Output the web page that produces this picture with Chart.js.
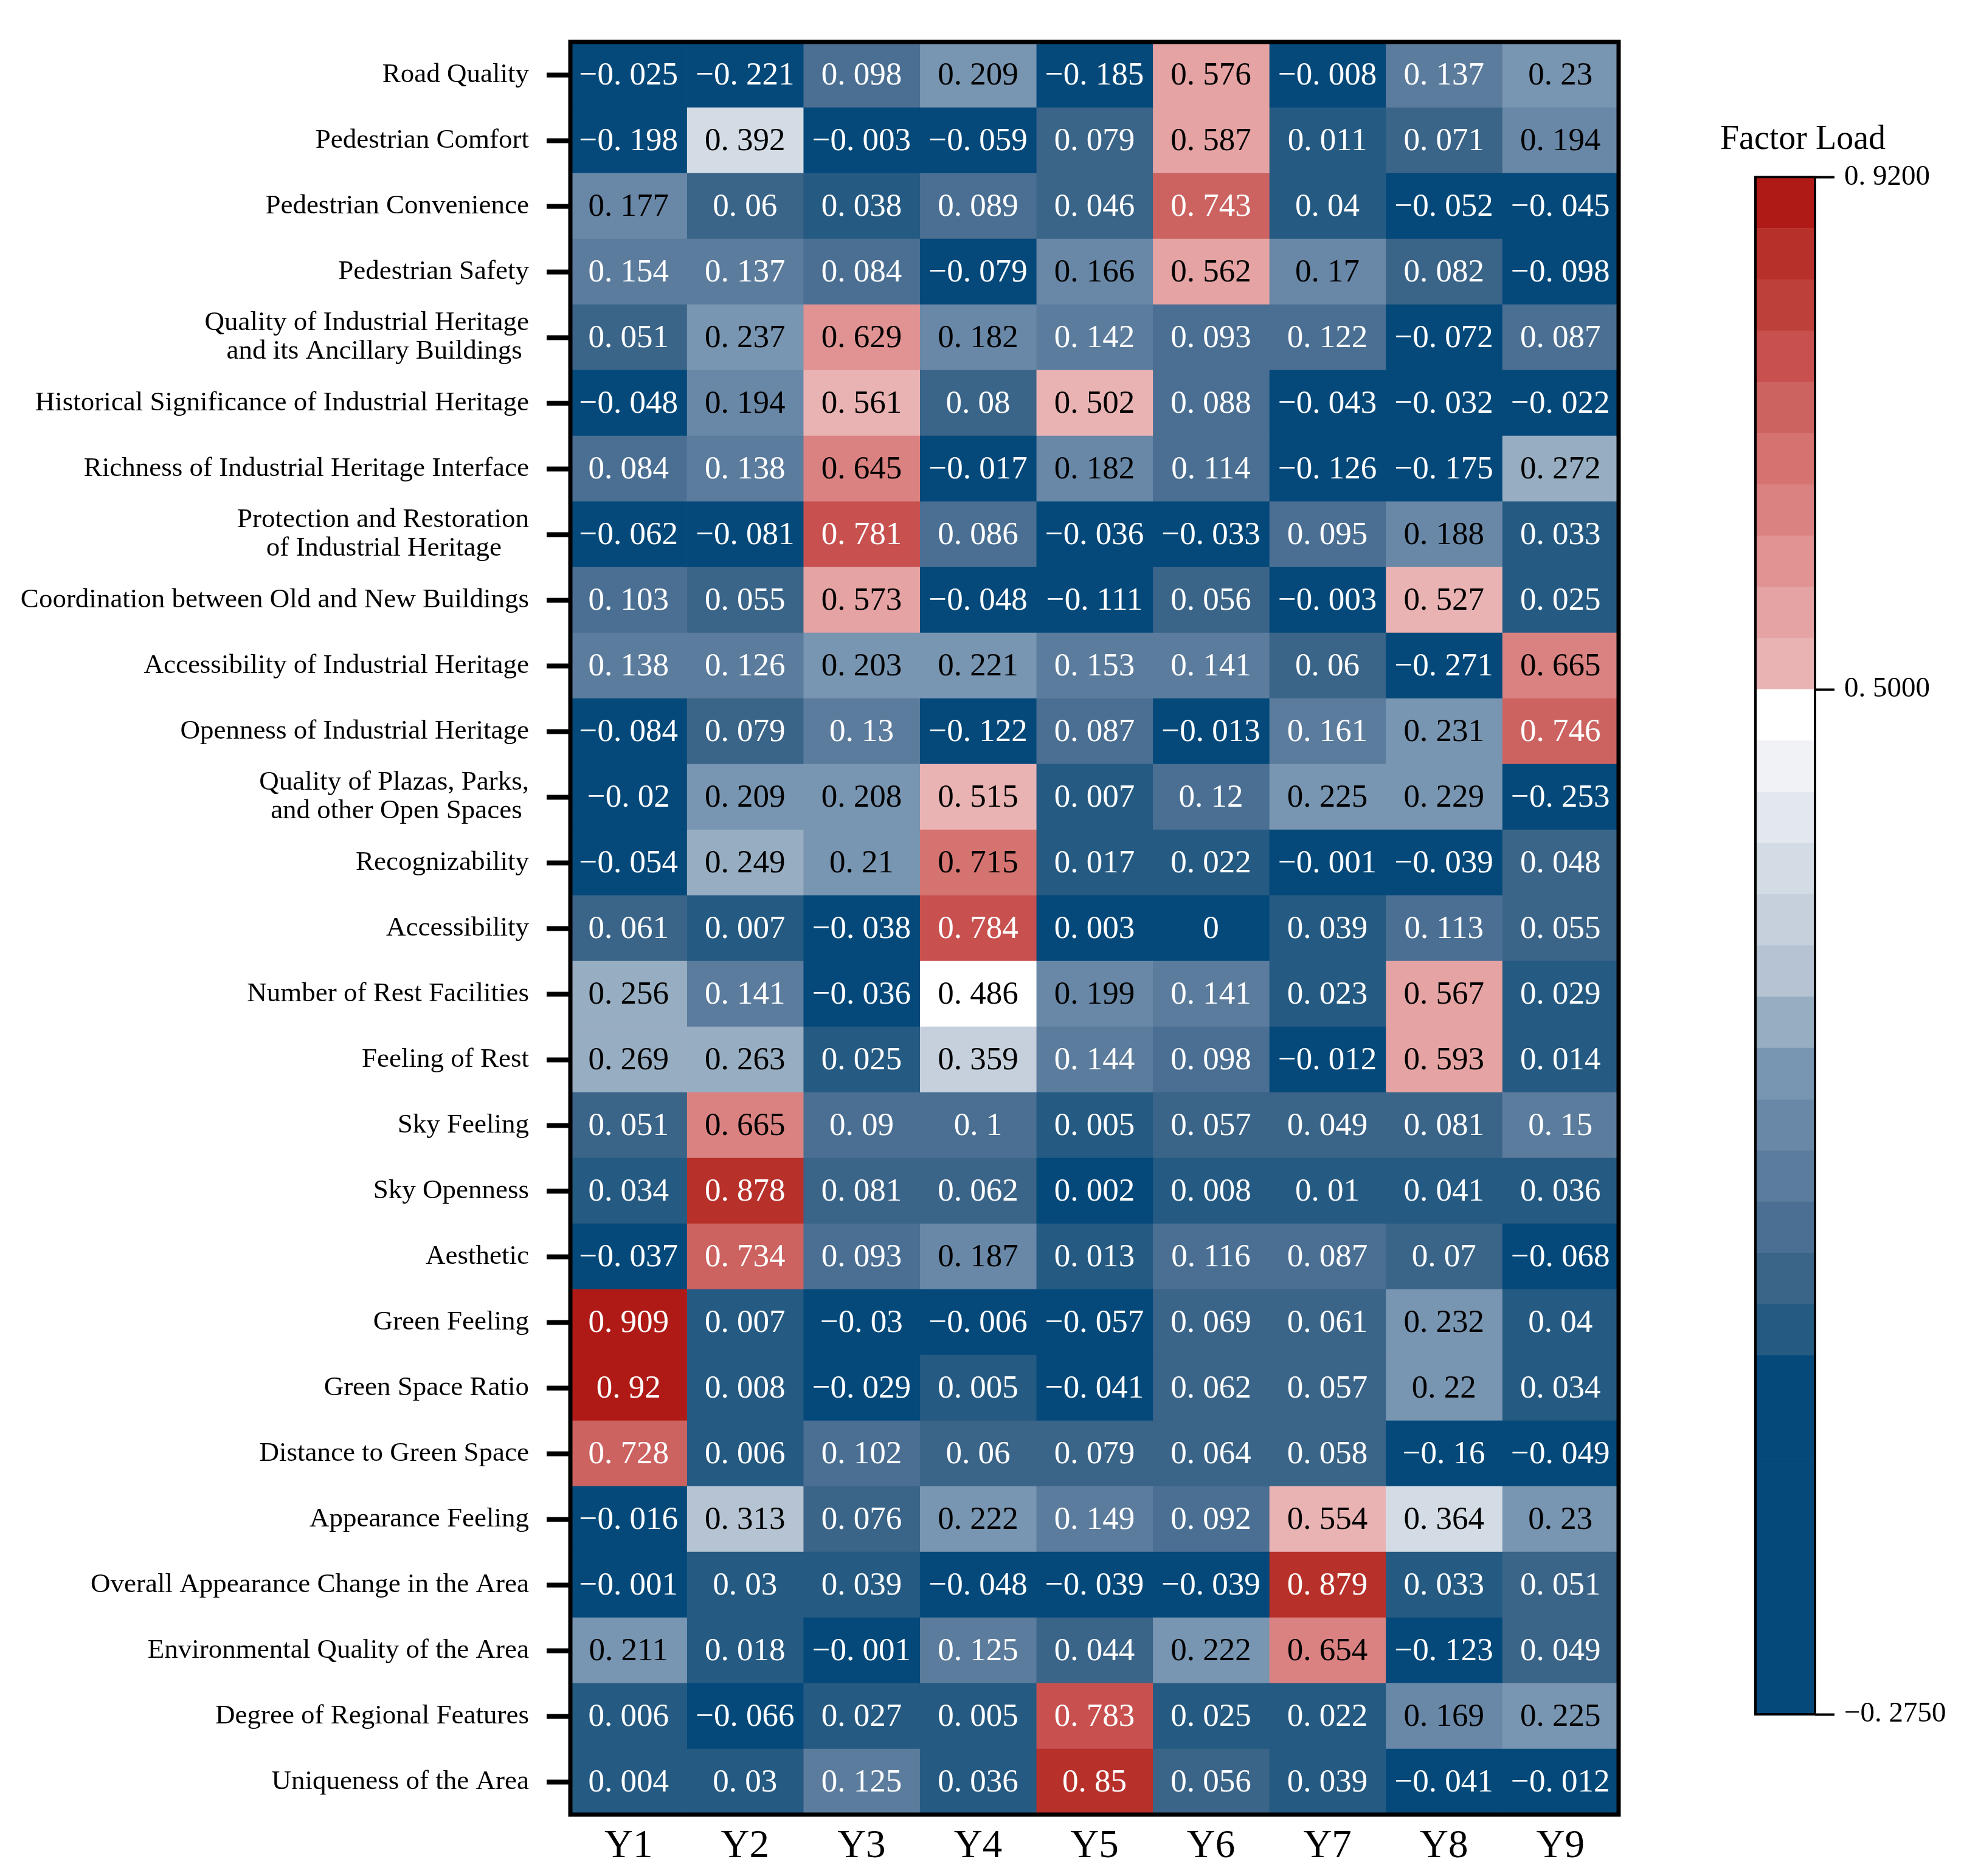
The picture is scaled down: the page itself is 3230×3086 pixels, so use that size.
<!DOCTYPE html>
<html><head><meta charset="utf-8">
<script src="https://cdn.jsdelivr.net/npm/chart.js@4.4.0/dist/chart.umd.min.js"></script>
<style>
html,body{margin:0;padding:0;background:#fff;}
#wrap{position:relative;width:3230px;height:3086px;background:#fff;}
#main{position:absolute;left:0;top:0;}
#cbar{position:absolute;left:2700px;top:0;}
</style></head><body>
<div id="wrap"><canvas id="main" width="2700" height="3086"></canvas><canvas id="cbar" width="530" height="3086"></canvas></div>
<script>
// ---------- data ----------
const rowLabels = [
  "Road Quality",
  "Pedestrian Comfort",
  "Pedestrian Convenience",
  "Pedestrian Safety",
  "Quality of Industrial Heritage\nand its Ancillary Buildings\u00a0",
  "Historical Significance of Industrial Heritage",
  "Richness of Industrial Heritage Interface",
  "Protection and Restoration\nof Industrial Heritage\u00a0\u00a0\u00a0\u00a0",
  "Coordination between Old and New Buildings",
  "Accessibility of Industrial Heritage",
  "Openness of Industrial Heritage",
  "Quality of Plazas, Parks,\nand other Open Spaces\u00a0",
  "Recognizability",
  "Accessibility",
  "Number of Rest Facilities",
  "Feeling of Rest",
  "Sky Feeling",
  "Sky Openness",
  "Aesthetic",
  "Green Feeling",
  "Green Space Ratio",
  "Distance to Green Space",
  "Appearance Feeling",
  "Overall Appearance Change in the Area",
  "Environmental Quality of the Area",
  "Degree of Regional Features",
  "Uniqueness of the Area"
];
const colLabels = ["Y1","Y2","Y3","Y4","Y5","Y6","Y7","Y8","Y9"];

const loadY1 = [-0.025,-0.198,0.177,0.154,0.051,-0.048,0.084,-0.062,0.103,0.138,-0.084,-0.02,-0.054,0.061,0.256,0.269,0.051,0.034,-0.037,0.909,0.92,0.728,-0.016,-0.001,0.211,0.006,0.004];
const loadY2 = [-0.221,0.392,0.06,0.137,0.237,0.194,0.138,-0.081,0.055,0.126,0.079,0.209,0.249,0.007,0.141,0.263,0.665,0.878,0.734,0.007,0.008,0.006,0.313,0.03,0.018,-0.066,0.03];
const loadY3 = [0.098,-0.003,0.038,0.084,0.629,0.561,0.645,0.781,0.573,0.203,0.13,0.208,0.21,-0.038,-0.036,0.025,0.09,0.081,0.093,-0.03,-0.029,0.102,0.076,0.039,-0.001,0.027,0.125];
const loadY4 = [0.209,-0.059,0.089,-0.079,0.182,0.08,-0.017,0.086,-0.048,0.221,-0.122,0.515,0.715,0.784,0.486,0.359,0.1,0.062,0.187,-0.006,0.005,0.06,0.222,-0.048,0.125,0.005,0.036];
const loadY5 = [-0.185,0.079,0.046,0.166,0.142,0.502,0.182,-0.036,-0.111,0.153,0.087,0.007,0.017,0.003,0.199,0.144,0.005,0.002,0.013,-0.057,-0.041,0.079,0.149,-0.039,0.044,0.783,0.85];
const loadY6 = [0.576,0.587,0.743,0.562,0.093,0.088,0.114,-0.033,0.056,0.141,-0.013,0.12,0.022,0,0.141,0.098,0.057,0.008,0.116,0.069,0.062,0.064,0.092,-0.039,0.222,0.025,0.056];
const loadY7 = [-0.008,0.011,0.04,0.17,0.122,-0.043,-0.126,0.095,-0.003,0.06,0.161,0.225,-0.001,0.039,0.023,-0.012,0.049,0.01,0.087,0.061,0.057,0.058,0.554,0.879,0.654,0.022,0.039];
const loadY8 = [0.137,0.071,-0.052,0.082,-0.072,-0.032,-0.175,0.188,0.527,-0.271,0.231,0.229,-0.039,0.113,0.567,0.593,0.081,0.041,0.07,0.232,0.22,-0.16,0.364,0.033,-0.123,0.169,-0.041];
const loadY9 = [0.23,0.194,-0.045,-0.098,0.087,-0.022,0.272,0.033,0.025,0.665,0.746,-0.253,0.048,0.055,0.029,0.014,0.15,0.036,-0.068,0.04,0.034,-0.049,0.23,0.051,0.049,0.225,-0.012];
const columnSeries = [loadY1,loadY2,loadY3,loadY4,loadY5,loadY6,loadY7,loadY8,loadY9];

const cbTickValues = [-0.275, 0.5, 0.92];
const colorbarTitle = "Factor Load";

// ---------- colour scale ----------
const vMin = -0.275, vMax = 0.92, vCenter = 0.5, nBins = 30, centerBin = 20;
const palette = [
  "#04497a","#04497a","#04497a","#04497a","#04497a","#04497a","#04497a",
  "#255a82","#3a6488","#4a6f93","#5b7c9d","#6988a8","#7895b1","#97adc1",
  "#b5c3d2","#c5d0dc","#d3dce5","#e3e7ee","#f1f2f6","#ffffff",
  "#eab3b3","#e5a3a3","#e09392","#da8281","#d47370","#cc6360","#c85150",
  "#be403a","#b8302a","#b01a16"
];
function binOf(v){
  let k = Math.floor((v - vMin) / ((vMax - vMin) / nBins));
  if (v >= vCenter) k = Math.max(k, centerBin);
  return Math.min(nBins - 1, Math.max(0, k));
}
function textColorOf(v){ const k = binOf(v); return (k >= 11 && k <= 24) ? "#000000" : "#ffffff"; }
function fmt(v){
  if (v === 0) return "0";
  const s = String(Math.abs(v)).replace(".", ". ");
  return (v < 0 ? "\u2212" : "") + s;
}
function fmtCb(v){ return (v < 0 ? "\u2212" : "") + Math.abs(v).toFixed(4).replace(".", ". "); }
function cbPos(v){
  return v >= vCenter ? centerBin + (v - vCenter) / (vMax - vCenter) * (nBins - centerBin)
                      : (v - vMin) / (vCenter - vMin) * centerBin;
}

Chart.defaults.font.family = "'Liberation Serif', 'Times New Roman', serif";
Chart.defaults.color = "#000";

// ---------- main heatmap ----------
const cellText = {
  id: "cellText",
  afterDatasetsDraw(chart){
    const ctx = chart.ctx;
    ctx.save();
    ctx.font = "53px 'Liberation Serif'";
    ctx.textAlign = "center";
    ctx.textBaseline = "middle";
    chart.data.datasets.forEach((ds, j) => {
      const meta = chart.getDatasetMeta(j);
      meta.data.forEach((el, i) => {
        const v = columnSeries[j][i];
        const p = el.getCenterPoint();
        ctx.fillStyle = textColorOf(v);
        ctx.fillText(fmt(v), p.x, p.y + 2);
      });
    });
    const a = chart.chartArea;
    ctx.lineWidth = 7;
    ctx.strokeStyle = "#000";
    ctx.strokeRect(a.left, a.top, a.right - a.left, a.bottom - a.top);
    ctx.restore();
  }
};

new Chart(document.getElementById("main"), {
  type: "bar",
  data: {
    labels: rowLabels.map(l => l.split("\n")),
    datasets: columnSeries.map((vals, j) => ({
      label: colLabels[j],
      data: vals.map(() => [j, j + 1]),
      backgroundColor: vals.map(v => palette[binOf(v)]),
      borderWidth: 0,
      barPercentage: 1,
      categoryPercentage: 1,
      grouped: false
    }))
  },
  options: {
    indexAxis: "y",
    responsive: false,
    animation: false,
    devicePixelRatio: 1,
    layout: { padding: { left: 0, right: 38, top: 69, bottom: 0 } },
    plugins: { legend: { display: false }, tooltip: { enabled: false }, title: { display: false } },
    scales: {
      y: {
        type: "category",
        offset: true,
        afterFit: s => { s.width = 938; },
        grid: { offset: false, drawOnChartArea: false, drawTicks: true, tickLength: 39, tickWidth: 8, tickColor: "#000" },
        border: { display: false },
        ticks: { autoSkip: false, padding: 29, color: "#000", font: { size: 45, lineHeight: 1.05 } }
      },
      x: {
        type: "linear",
        min: 0, max: colLabels.length,
        afterBuildTicks: s => { s.ticks = colLabels.map((_, j) => ({ value: j + 0.5 })); },
        afterFit: s => { s.height = 101; },
        grid: { display: false, drawTicks: false },
        border: { display: false },
        ticks: { autoSkip: false, maxRotation: 0, padding: 14, color: "#000", font: { size: 65 },
                 callback: (v, i) => colLabels[i] }
      }
    }
  },
  plugins: [cellText]
});

// ---------- colour bar ----------
const cbFrame = {
  id: "cbFrame",
  afterDatasetsDraw(chart){
    const a = chart.chartArea, ctx = chart.ctx;
    ctx.save();
    ctx.lineWidth = 4;
    ctx.strokeStyle = "#000";
    ctx.strokeRect(a.left, a.top, a.right - a.left, a.bottom - a.top);
    ctx.restore();
  }
};
new Chart(document.getElementById("cbar"), {
  type: "bar",
  data: {
    labels: [""],
    datasets: palette.map((c, k) => ({
      data: [1], backgroundColor: c, borderWidth: 0,
      barPercentage: 1, categoryPercentage: 1, stack: "cb"
    }))
  },
  options: {
    responsive: false,
    animation: false,
    devicePixelRatio: 1,
    layout: { padding: { left: 0, right: 0, top: 0, bottom: 266 } },
    plugins: {
      legend: { display: false }, tooltip: { enabled: false },
      title: { display: true, text: colorbarTitle, color: "#000",
               font: { size: 56, weight: "normal", lineHeight: 1.2 },
               padding: { top: 197, bottom: 27 } }
    },
    scales: {
      x: { stacked: true, display: false },
      yl: {
        type: "linear", position: "left", display: true,
        afterFit: s => { s.width = 187; },
        grid: { display: false, drawTicks: false },
        border: { display: false },
        ticks: { display: false }
      },
      y: {
        stacked: true, position: "right", min: 0, max: nBins,
        afterBuildTicks: s => { s.ticks = cbTickValues.map(v => ({ value: cbPos(v) })); },
        afterFit: s => { s.width = 245; },
        grid: { drawOnChartArea: false, drawTicks: true, tickLength: 32, tickWidth: 4, tickColor: "#000" },
        border: { display: false },
        ticks: { padding: 16, color: "#000", font: { size: 47 },
                 callback: (v, i) => fmtCb(cbTickValues[i]) }
      }
    }
  },
  plugins: [cbFrame]
});
</script>
</body></html>
